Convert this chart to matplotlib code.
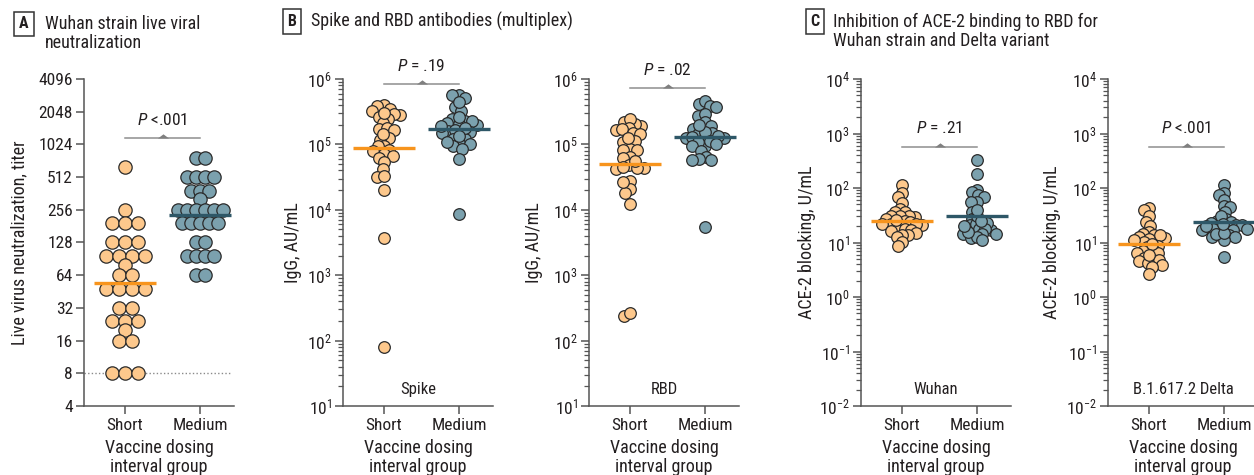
import numpy as np
import matplotlib
matplotlib.use('Agg')
import matplotlib.pyplot as plt
from matplotlib import font_manager as fm
from matplotlib.ticker import LogLocator, NullFormatter, LogFormatterSciNotation, FixedLocator, NullLocator
from matplotlib.path import Path

names = {f.name for f in fm.fontManager.ttflist}
FONT = next((n for n in ['Liberation Sans Narrow', 'Roboto Condensed', 'Open Sans Condensed',
                         'Liberation Sans'] if n in names), 'DejaVu Sans')
plt.rcParams['font.family'] = [FONT, 'DejaVu Sans']
plt.rcParams['mathtext.fontset'] = 'custom'
plt.rcParams['mathtext.rm'] = FONT
plt.rcParams['mathtext.it'] = FONT + ':italic'
plt.rcParams['mathtext.bf'] = FONT + ':bold'

# ---------------- data ----------------
groups = ['Short', 'Medium']

neut_short = [640, 256, 192, 192, 192, 128, 128, 128, 96, 96, 96, 96, 80, 64, 64,
              48, 48, 48, 48, 32, 32, 24, 24, 24, 20, 16, 16, 8, 8, 8]
neut_medium = [768, 768, 512, 512, 512, 512, 384, 384, 384, 320, 256, 256, 256, 256, 256, 256,
               192, 192, 192, 192, 192, 128, 128, 96, 96, 96, 96, 64, 64]

spike_short = [4.04e5, 3.81e5, 3.51e5, 3.27e5, 2.84e5, 2.90e5, 2.58e5, 2.46e5, 2.11e5, 1.73e5,
               1.77e5, 1.67e5, 1.24e5, 1.17e5, 9.6e4, 9.3e4, 8.2e4, 7.8e4, 7.1e4, 6.7e4,
               6.1e4, 5.3e4, 4.2e4, 3.2e4, 3.3e4, 2.0e4, 3.76e3, 81, 1.45e5, 3.0e5]
spike_medium = [5.75e5, 5.75e5, 5.1e5, 3.67e5, 3.27e5, 2.46e5, 1.99e5, 2.29e5, 2.29e5, 2.11e5,
                2.04e5, 1.61e5, 1.67e5, 1.57e5, 1.48e5, 1.21e5, 1.21e5, 1.04e5, 1.02e5, 9.3e4,
                8.4e4, 6.0e4, 8.7e3, 4.5e5, 2.6e5, 1.8e5, 1.35e5, 1.1e5, 1.9e5]

rbd_short = [1.66e5, 2.17e5, 1.93e5, 2.05e5, 2.44e5, 1.78e5, 1.72e5, 1.47e5, 1.44e5, 1.07e5,
             1.14e5, 8.5e4, 8.2e4, 8.2e4, 6.5e4, 6.3e4, 4.9e4, 4.2e4, 4.3e4, 4.5e4,
             4.4e4, 2.8e4, 2.1e4, 1.78e4, 1.22e4, 239, 268, 1.25e5, 5.5e4, 2.7e4]
rbd_medium = [4.14e5, 4.66e5, 3.91e5, 3.68e5, 2.75e5, 2.91e5, 2.17e5, 1.93e5, 1.72e5, 1.25e5,
              1.44e5, 1.47e5, 1.21e5, 1.53e5, 1.25e5, 1.31e5, 9.5e4, 1.07e5, 1.14e5, 9.5e4,
              7.8e4, 6.5e4, 5.97e4, 5.76e4, 5.76e4, 5.5e3, 1.35e5, 1.0e5, 2.0e5]

wuhan_short = [112, 81, 68, 53, 42, 36, 36, 29, 31, 30, 31, 27, 25, 24, 21, 22, 21, 22, 22,
               17, 18, 17, 16, 15, 13.5, 14, 12.5, 10.4, 8.8, 26]
wuhan_medium = [332, 179, 93, 84, 73, 68, 55, 55, 36, 27, 21, 17, 17, 22, 23, 18, 18, 14.5,
                14.5, 14.5, 12.2, 12.5, 10.9, 15.5, 30, 20, 25, 40]

delta_short = [43, 39, 30, 24, 20, 15.5, 14.5, 12.5, 13.5, 11.7, 12.2, 13.5, 10.1, 8.8, 8.2,
               7.3, 6.4, 7.1, 6.4, 5.2, 4.8, 4.5, 4.8, 4.2, 3.9, 3.6, 2.6, 9.5, 11, 5.8]
delta_medium = [112, 81, 73, 59, 46, 45, 36, 27, 25, 24, 23, 21, 19, 21, 17, 18, 18, 17, 13.5,
                12.5, 11, 12.5, 14.5, 18, 5.4, 30, 20, 15, 22]

neut_ticks = [4, 8, 16, 32, 64, 128, 256, 512, 1024, 2048, 4096]
p_texts = [r'$P$ <.001', r'$P$ = .19', r'$P$ = .02', r'$P$ = .21', r'$P$ <.001']
inner_labels = [None, 'Spike', 'RBD', 'Wuhan', 'B.1.617.2 Delta']

# ---------------- style ----------------
W, H = 1254, 475
C_SHORT = '#FDC88C'
C_MED = '#7BA1AE'
L_SHORT = '#F7941D'
L_MED = '#2E5767'
EDGE = '#2a2a2a'
AXC = '#555555'
TXT = '#231f20'

fig = plt.figure(figsize=(W / 100, H / 100), dpi=100)

TOP, BOT = 79, 406
AX_W = 150
LEFT_OFF = 41.0
UNIT = 75.0


def make_ax(left_px):
    ax = fig.add_axes([left_px / W, 1 - BOT / H, AX_W / W, (BOT - TOP) / H])
    ax.set_xlim(-LEFT_OFF / UNIT, (AX_W - LEFT_OFF) / UNIT)
    return ax


def swarm(ax, xc, vals, d):
    pts = ax.transData.transform(np.column_stack([np.full(len(vals), xc, dtype=float),
                                                  np.asarray(vals, dtype=float)]))
    ys = pts[:, 1]
    order = np.argsort(-ys, kind='stable')
    placed = []
    offs = np.zeros(len(vals))
    for i in order:
        y = ys[i]
        nb = [(xo, yo) for xo, yo in placed if abs(yo - y) < d]
        cands = [0.0]
        for xo, yo in nb:
            dx = np.sqrt(max(d * d - (yo - y) ** 2, 0))
            cands += [xo + dx, xo - dx]
        cands = sorted(cands, key=lambda c: (abs(c), c))
        for c in cands:
            if all((c - xo) ** 2 + (y - yo) ** 2 >= d * d - 1e-6 for xo, yo in nb):
                offs[i] = c
                break
        placed.append((offs[i], y))
    ppu = ax.transData.transform((1, 1))[0] - ax.transData.transform((0, 1))[0]
    return xc + offs / ppu


def rows(ax, xc, vals, d):
    vals = np.asarray(vals, dtype=float)
    ppu = ax.transData.transform((1, 1))[0] - ax.transData.transform((0, 1))[0]
    xs = np.zeros(len(vals))
    for v in np.unique(vals):
        idx = np.where(vals == v)[0]
        n = len(idx)
        for k, i in enumerate(idx):
            xs[i] = xc + (k - (n - 1) / 2) * d / ppu
    return xs


tri = Path([(-1, 0), (1, 0), (0, 0.75), (-1, 0)], [Path.MOVETO, Path.LINETO, Path.LINETO, Path.CLOSEPOLY])

panels = [
    dict(left=84, s=neut_short, m=neut_medium, kind='log2', ylim=(4, 4096), sw=None, ms=92,
         ylabel='Live virus neutralization, titer', ylx=-0.37, br=1169, pt=1714),
    dict(left=343, s=spike_short, m=spike_medium, kind='log10', ylim=(10, 1e6), sw=6.8, ms=70,
         ylabel='IgG, AU/mL', ylx=-0.27, br=8.4e5, pt=1.58e6),
    dict(left=589, s=rbd_short, m=rbd_medium, kind='log10', ylim=(10, 1e6), sw=6.8, ms=70,
         ylabel='IgG, AU/mL', ylx=-0.305, br=7.3e5, pt=1.37e6),
    dict(left=861, s=wuhan_short, m=wuhan_medium, kind='log10', ylim=(1e-2, 1e4), sw=5.9, ms=70,
         ylabel='ACE-2 blocking, U/mL', ylx=-0.30, br=560, pt=1260),
    dict(left=1108, s=delta_short, m=delta_medium, kind='log10', ylim=(1e-2, 1e4), sw=5.9, ms=70,
         ylabel='ACE-2 blocking, U/mL', ylx=-0.313, br=560, pt=1260),
]

for pi, p in enumerate(panels):
    ax = make_ax(p['left'])
    if p['kind'] == 'log2':
        ax.set_yscale('log', base=2)
        ax.set_ylim(*p['ylim'])
        ax.yaxis.set_major_locator(FixedLocator(neut_ticks))
        ax.set_yticklabels([str(t) for t in neut_ticks])
        ax.yaxis.set_minor_locator(NullLocator())
        ax.axhline(8, xmax=0.985, color='#8a8a8a', lw=1, ls=(0, (1, 1.6)), zorder=0)
        xs_s = rows(ax, 0, p['s'], 13.0)
        xs_m = rows(ax, 1, p['m'], 9.0)
    else:
        ax.set_yscale('log')
        ax.set_ylim(*p['ylim'])
        ax.yaxis.set_major_locator(LogLocator(base=10, numticks=20))
        ax.yaxis.set_major_formatter(LogFormatterSciNotation())
        ax.yaxis.set_minor_locator(LogLocator(base=10, subs=np.arange(2, 10), numticks=100))
        ax.yaxis.set_minor_formatter(NullFormatter())
        xs_s = swarm(ax, 0, p['s'], p['sw'])
        xs_m = swarm(ax, 1, p['m'], p['sw'])

    ax.scatter(xs_s, p['s'], s=p['ms'], c=C_SHORT, edgecolors=EDGE, linewidths=0.9, zorder=3,
               clip_on=False)
    ax.scatter(xs_m, p['m'], s=p['ms'], c=C_MED, edgecolors=EDGE, linewidths=0.9, zorder=3,
               clip_on=False)

    gm_s = np.exp(np.mean(np.log(p['s'])))
    gm_m = np.exp(np.mean(np.log(p['m'])))
    ax.plot([-0.41, 0.41], [gm_s, gm_s], color=L_SHORT, lw=2.4, zorder=4, solid_capstyle='butt')
    ax.plot([1 - 0.41, 1 + 0.41], [gm_m, gm_m], color=L_MED, lw=2.4, zorder=4, solid_capstyle='butt')

    # significance bracket
    ax.plot([0, 1], [p['br'], p['br']], color='#8e8e8e', lw=1.1, clip_on=False, zorder=2)
    ax.plot([0.5], [p['br']], marker=tri, ms=8, color='#808080', mec='none', clip_on=False, zorder=2)
    ax.text(0.5, p['pt'], p_texts[pi], ha='center', va='center', fontsize=12.5, color=TXT,
            clip_on=False)

    if inner_labels[pi]:
        ax.text(0.5, 0.05, inner_labels[pi], transform=ax.transAxes, ha='center', va='center',
                fontsize=12, color=TXT)

    ax.set_xticks([0, 1])
    ax.set_xticklabels(groups)
    for s in ['top', 'right']:
        ax.spines[s].set_visible(False)
    for s in ['left', 'bottom']:
        ax.spines[s].set_color(AXC)
        ax.spines[s].set_linewidth(1.1)
    ax.tick_params(axis='both', which='major', length=6, width=1.1, color=AXC, labelsize=12.5,
                   labelcolor=TXT, pad=2)
    ax.tick_params(axis='y', which='minor', length=3.5, width=0.9, color=AXC)
    ax.tick_params(axis='x', pad=3)

    ax.set_xlabel('Vaccine dosing\ninterval group', fontsize=13, color=TXT, linespacing=1.12)
    ax.xaxis.set_label_coords(0.5, -0.1)
    ax.set_ylabel(p['ylabel'], fontsize=13, color=TXT)
    ax.yaxis.set_label_coords(p['ylx'], 0.5)

# ---------------- panel headers ----------------
BOX = dict(boxstyle='square,pad=0.3', fc='white', ec='#333333', lw=1.1)
fig.text(24 / W, 1 - 24 / H, 'A', ha='center', va='center', fontsize=11.5, fontweight='bold',
         color=TXT, bbox=BOX)
fig.text(45 / W, 1 - 33.5 / H, 'Wuhan strain live viral\nneutralization', ha='left', va='center',
         fontsize=13, color=TXT, linespacing=1.1)
fig.text(292 / W, 1 - 21.5 / H, 'B', ha='center', va='center', fontsize=11.5, fontweight='bold',
         color=TXT, bbox=BOX)
fig.text(311 / W, 1 - 21.5 / H, 'Spike and RBD antibodies (multiplex)', ha='left', va='center',
         fontsize=13, color=TXT)
fig.text(815 / W, 1 - 21.5 / H, 'C', ha='center', va='center', fontsize=11.5, fontweight='bold',
         color=TXT, bbox=BOX)
fig.text(833 / W, 1 - 31.5 / H, 'Inhibition of ACE-2 binding to RBD for\nWuhan strain and Delta variant',
         ha='left', va='center', fontsize=13, color=TXT, linespacing=1.1)

fig.savefig('out.png', dpi=100, facecolor='white')
